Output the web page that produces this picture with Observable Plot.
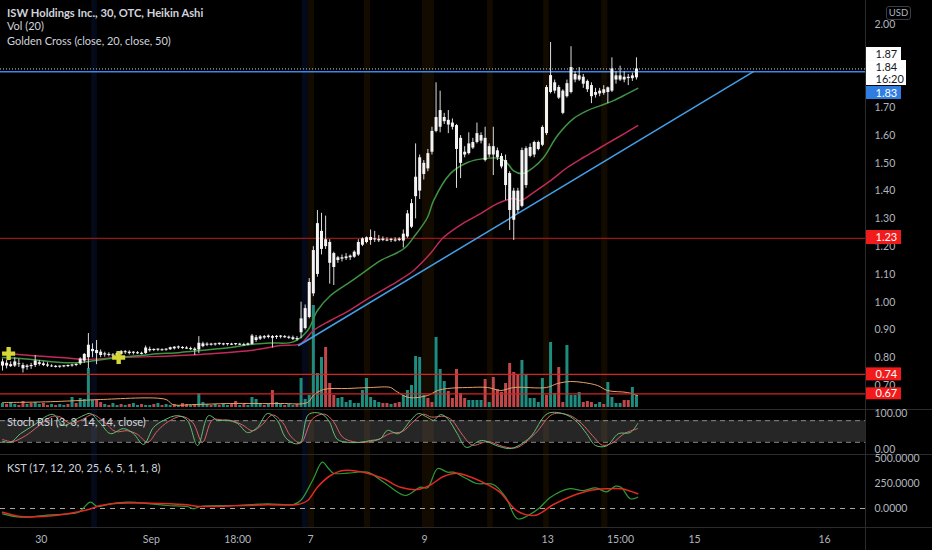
<!DOCTYPE html>
<html><head><meta charset="utf-8">
<script src="https://cdn.jsdelivr.net/npm/d3@7"></script>
<script src="https://cdn.jsdelivr.net/npm/@observablehq/plot@0.6"></script>
<style>
html,body{margin:0;padding:0;background:#000;}
#chart{position:relative;width:932px;height:550px;background:#000;overflow:hidden;font-family:Lato,'Open Sans',sans-serif;}
#chart svg{position:absolute;}
.lbl{position:absolute;color:#d1d4dc;font-size:11px;white-space:nowrap;line-height:14px;}
.sep{position:absolute;background:#2b2b2b;}
#usd{position:absolute;left:886px;top:6px;width:23px;height:12px;border:1px solid #3a3d45;border-radius:3px;color:#b2b5be;font-size:9.5px;line-height:12px;text-align:center;}
</style></head><body><div id="chart"></div><script>
// ---------- DATA ----------
const candleOpen = [
.770,.780,.775,.770,.778,.772,.765,.768,.772,.782,
.778,.774,.770,.769,.766,.767,.768,.770,.772,.778,
.788,.800,.822,.826,.820,.814,.812,.810,.808,.812,
.818,.820,.816,.818,.816,.815,.825,.830,.827,.829,
.827,.829,.832,.835,.837,.835,.833,.831,.828,.840,
.845,.849,.846,.848,.850,.847,.849,.847,.849,.847,
.845,.848,.862,.867,.871,.873,.876,.873,.874,.876,
.874,.872,.869,.890,.905,.945,1.03,1.10,1.19,1.225,
1.215,1.175,1.15,1.155,1.157,1.16,1.162,1.17,1.205,1.215,
1.222,1.228,1.226,1.222,1.224,1.222,1.224,1.222,1.22,1.235,
1.27,1.38,1.40,1.46,1.48,1.54,1.615,1.63,1.665,1.655,
1.645,1.636,1.59,1.54,1.535,1.555,1.575,1.60,1.59,1.56,
1.53,1.545,1.525,1.51,1.463,1.40,1.33,1.345,1.42,1.525,
1.53,1.55,1.565,1.607,1.755,1.79,1.773,1.76,1.74,1.755,
1.82,1.815,1.81,1.795,1.78,1.755,1.75,1.765,1.755,1.76,
1.80,1.80,1.81,1.805,1.805,1.808];
const candleHigh = [
.795,.790,.785,.800,.795,.780,.775,.780,.808,.790,
.785,.782,.775,.772,.770,.772,.774,.776,.778,.800,
.815,.887,.850,.862,.828,.820,.818,.815,.820,.826,
.826,.825,.822,.822,.820,.842,.838,.832,.832,.832,
.832,.838,.840,.842,.840,.840,.838,.836,.876,.856,
.854,.852,.852,.853,.852,.851,.852,.851,.852,.852,
.853,.884,.880,.880,.880,.882,.880,.880,.880,.880,
.878,.878,.876,1.00,.99,1.085,1.20,1.33,1.32,1.31,
1.225,1.18,1.165,1.17,1.175,1.17,1.185,1.225,1.232,1.235,
1.26,1.255,1.24,1.235,1.232,1.23,1.232,1.232,1.26,1.33,
1.37,1.57,1.53,1.51,1.55,1.63,1.79,1.76,1.68,1.69,
1.66,1.64,1.60,1.56,1.61,1.59,1.645,1.61,1.63,1.57,
1.63,1.555,1.535,1.53,1.47,1.41,1.41,1.555,1.56,1.57,
1.58,1.58,1.635,1.78,1.935,1.80,1.78,1.765,1.80,1.92,
1.83,1.845,1.82,1.80,1.79,1.77,1.77,1.78,1.775,1.88,
1.83,1.85,1.83,1.82,1.825,1.88];
const candleLow = [
.752,.760,.765,.765,.765,.745,.755,.758,.765,.770,
.768,.765,.765,.763,.762,.764,.765,.766,.768,.772,
.780,.760,.800,.775,.800,.802,.803,.800,.800,.808,
.812,.810,.810,.812,.810,.812,.820,.822,.822,.824,
.823,.826,.828,.830,.830,.830,.826,.808,.815,.836,
.840,.842,.842,.844,.843,.842,.844,.843,.844,.842,
.843,.845,.855,.862,.866,.868,.835,.866,.868,.870,
.866,.862,.860,.868,.90,.94,1.02,1.09,1.17,1.19,
1.065,1.06,1.14,1.145,1.15,1.15,1.158,1.165,1.20,1.21,
1.205,1.215,1.215,1.218,1.218,1.215,1.216,1.218,1.195,1.23,
1.265,1.30,1.37,1.44,1.47,1.53,1.61,1.61,1.64,1.607,
1.62,1.41,1.445,1.52,1.53,1.55,1.57,1.57,1.505,1.52,
1.456,1.51,1.48,1.366,1.258,1.222,1.32,1.34,1.41,1.52,
1.52,1.545,1.56,1.60,1.75,1.75,1.73,1.675,1.735,1.75,
1.79,1.795,1.77,1.755,1.715,1.735,1.74,1.745,1.715,1.755,
1.785,1.795,1.79,1.78,1.795,1.80];
const candleClose = [
.785,.770,.768,.785,.775,.760,.770,.772,.788,.776,
.772,.770,.767,.765,.770,.771,.772,.774,.776,.795,
.812,.845,.830,.815,.808,.810,.808,.806,.815,.822,
.822,.815,.820,.814,.812,.835,.830,.826,.831,.825,
.831,.836,.838,.839,.833,.831,.829,.826,.852,.850,
.849,.845,.850,.852,.846,.851,.845,.851,.845,.843,
.850,.878,.872,.875,.876,.878,.870,.877,.878,.872,
.870,.866,.865,.940,.977,1.071,1.186,1.283,1.255,1.20,
1.14,1.125,1.16,1.16,1.163,1.166,1.18,1.215,1.228,1.232,
1.233,1.224,1.221,1.227,1.22,1.226,1.22,1.227,1.245,1.318,
1.355,1.45,1.52,1.50,1.535,1.615,1.665,1.69,1.65,1.638,
1.63,1.55,1.50,1.53,1.57,1.575,1.607,1.58,1.51,1.53,
1.56,1.52,1.487,1.42,1.33,1.295,1.40,1.546,1.553,1.557,
1.575,1.575,1.629,1.773,1.816,1.76,1.735,1.68,1.787,1.845,
1.80,1.80,1.785,1.765,1.74,1.745,1.76,1.752,1.772,1.84,
1.815,1.815,1.80,1.81,1.815,1.84];

// volume (thousand shares) and direction (1 = up / teal, 0 = down / red)
const volume = [
40,30,50,30,20,60,30,40,50,30,40,20,30,20,30,20,30,100,40,90,80,
390,70,70,50,
30,20,40,20,30,20,30,40,20,30,20,20,30,40,20,30,20,30,20,40,30,20,30,
140,50,
30,20,30,20,30,20,30,
60,
20,30,20,
100,80,
30,20,30,
170,50,
30,20,30,20,30,
290,80,120,1020,
340,500,600,240,120,90,100,50,70,40,
40,170,290,100,70,50,40,40,30,40,
50,120,170,220,510,500,120,90,50,700,
380,260,160,90,380,140,90,70,70,70,
70,280,50,300,180,150,240,440,350,330,
470,330,90,90,50,290,120,650,140,400,
50,620,120,120,150,50,60,50,30,50,
30,250,100,40,40,70,70,200,120];
const volumeUp = [
1,0,1,1,0,0,1,0,1,1,0,0,1,0,1,1,0,1,0,1,1,
1,1,0,0,
1,0,1,1,0,1,0,1,1,0,1,1,0,1,0,1,1,0,1,0,0,1,0,
1,1,
1,0,1,0,1,1,0,
0,
1,0,1,
1,1,
1,0,1,
0,1,
1,0,1,1,0,
1,1,1,1,
1,1,0,0,0,1,1,1,1,1,
1,1,1,1,1,1,0,0,1,0,
0,1,1,1,1,1,1,0,0,1,
1,1,0,0,0,0,0,1,1,1,
1,0,1,0,0,0,0,0,0,0,
1,1,1,1,1,1,0,1,1,0,
0,1,1,1,1,0,0,0,1,1,
0,1,1,1,1,0,0,1,1];
const volMaIdx = [0,9.3,19,24,40,41.6,47,55.7,68,74.6,76,78.5,84.4,90,94.9,96,99.3,103.9,106.4,108.8,113.7,118.6,121.8,125,133,135.7,138.9,142,145.5,147.9,152.8,155.3];
const volMaVal = [50,55,70,80,80,30,30,40,40,50,120,180,190,200,200,170,100,120,170,190,200,200,170,200,200,240,260,250,220,170,150,120];

// Golden Cross moving averages
const sma20Idx = [0,4.4,9.3,14.2,19.1,22.7,26.4,28.9,36.2,43.5,48.4,55.7,60.6,65.5,71.1,74.6,77,80.2,84.4,88.3,92.4,96.6,98.5,100.5,103.9,105.4,109.5,113.7,117.6,121.8,123.5,124.9,127.1,129.8,132.3,135.7,139.6,143,146.2,149.4,152.8,155.3];
const sma20Val = [0.801,0.797,0.790,0.783,0.783,0.790,0.797,0.801,0.812,0.819,0.826,0.837,0.848,0.853,0.857,0.898,0.970,1.024,1.067,1.107,1.150,1.179,1.197,1.233,1.305,1.366,1.463,1.503,1.517,1.517,1.499,1.474,1.463,1.485,1.521,1.600,1.661,1.690,1.708,1.726,1.751,1.770];
const sma50Idx = [0,6.8,14.2,20.3,28.4,36.2,48.4,60.6,68,72.9,76,80.2,84.4,88.3,92.4,96.6,100.5,104.6,107.8,112.7,116.9,121,124.9,126.7,129.8,134,138.1,142,146.2,150.4,155.3];
const sma50Val = [0.819,0.808,0.801,0.794,0.801,0.804,0.812,0.826,0.844,0.851,0.898,0.934,0.967,1.003,1.039,1.075,1.114,1.175,1.233,1.285,1.319,1.355,1.373,1.366,1.395,1.438,1.485,1.521,1.557,1.593,1.636];
const crossIdx = [1.5, 28.4];
const crossVal = [0.815, 0.801];

// drawings
const trendIdx = [72.4, 183.6];
const trendVal = [0.844, 1.83];
const levelVal = [1.23, 0.74, 0.67];
const levelColor = ["#9a1515", "#d42424", "#d42424"];
const resistance = 1.83;
const lastPrice = 1.84;
const priceTicks = [0.7,0.8,0.9,1.0,1.1,1.2,1.3,1.4,1.5,1.6,1.7,2.0];

// session highlight stripes (bar index)
const stripeStart = [21.8, 73.3, 74.8, 88.5, 102.7, 118.6, 132.3, 146.5];
const stripeEnd   = [23.2, 74.8, 76.3, 90.0, 105.6, 120.0, 133.7, 148.0];
const stripeKind  = ["b","b","o","o","o","o","o","o"];

// Stoch RSI
const stochKIdx = [0,2,4.4,7.6,11,12.5,14.9,18.3,20.3,21.5,24,26.4,29.6,32,34.5,36.9,39.4,42.8,45.2,47.7,50.4,52.6,55,57.5,59.9,62.3,64.8,67.2,69.2,71.6,72.9,74.8,77.8,79.7,81.9,84.4,87.5,90,92.4,94.1,96.8,99.8,101.7,103.9,105.4,107.1,108.8,111.2,113.4,117.1,121.5,124.4,128.9,133.3,137.7,140.6,142.8,145,147.7,150.6,153.5,155.3];
const stochKVal = [23,20,44,67,94,97,67,86,97,100,72,44,58,44,14,61,81,94,81,11,94,81,81,72,47,61,100,81,33,16,20,97,100,81,28,20,20,25,30,53,44,81,100,89,81,97,86,44,6,25,8,3,33,100,97,75,44,11,10,44,47,72];
const stochDIdx = [0,2.4,5.6,8.8,12.2,14.2,16.6,19.6,22,24.9,27.6,30.6,33,35.5,37.9,40.6,43.8,46.5,48.9,51.3,53.8,56.2,58.7,61.1,63.6,66,68.5,70.4,72.9,75.8,78.7,80.9,83.1,85.6,88.8,91.7,94.9,97.8,100.7,102.9,104.9,108.1,110,112.5,114.9,118.6,122.5,125.7,130.3,134.5,138.6,141.6,144.3,146.7,149.1,152,155.3];
const stochDVal = [28,22,38,65,92,90,72,84,97,76,50,52,42,20,52,78,92,75,20,82,82,80,68,52,70,96,75,38,18,85,98,78,35,22,20,27,45,50,80,98,90,92,80,40,12,22,8,5,45,98,95,72,38,12,18,44,58];

// KST
const kstIdx = [0,4.4,10,15.9,18.6,21.5,23.2,26.4,30.6,36.2,40.3,45.2,46.7,48.4,56.5,64.8,71.1,72.9,75.8,78.2,79.7,80.9,84.4,89.2,93.2,98.5,102.2,103.9,106.4,108.8,110.3,113.4,115.9,120,123,125.9,128.9,131.1,134,138.4,142,145,147.7,149.9,151.3,153.5,155.3];
const kstVal = [-53,-87,-70,-53,-37,63,20,47,63,47,30,20,-3,20,30,47,40,80,280,463,400,353,353,363,263,130,213,207,400,363,363,300,250,240,113,-103,-60,0,113,197,180,207,167,223,210,97,113];
const kstSigIdx = [0,4.4,10,15.9,20.8,24,28.1,36.2,44.3,48.4,56.5,64.8,72.1,74.6,77,80.2,83.4,89.2,93.2,97.3,101.5,104.6,107.8,111.2,113.4,117.4,121.5,125.9,130.3,134.7,139.1,143.5,147.7,151.3,155.3];
const kstSigVal = [-37,-80,-80,-53,-13,30,53,53,40,20,27,37,40,80,213,330,380,353,297,213,190,235,320,353,330,263,167,-27,-67,40,123,180,197,197,147];

// time axis
const timeTickIdx = [9.5, 36.4, 57.5, 75.3, 103.2, 133.3, 151.1, 169.2, 201.0];
const timeTickLabels = ["30", "Sep", "18:00", "7", "9", "13", "15:00", "15", "16"];

// price tags on the scale
const tagValue = [1.84, 1.87, 1.83, 1.23, 0.74, 0.67];
const tagText  = ["1.84", "1.87", "1.83", "1.23", "0.74", "0.67"];

// ---------- BUILD ----------
const chart = document.getElementById("chart");
const xDomain = [-0.49, 211.0];
const priceDomain = [0.6136, 2.0864];
const baseStyle = {background: "transparent", color: "#b2b5be", fontFamily: "Lato, 'Open Sans', sans-serif", fontSize: "10.5px", overflow: "visible"};
const noX = {domain: xDomain, axis: null};
function place(node, top, left = 0) { node.style.top = top + "px"; node.style.left = left + "px"; chart.appendChild(node); }
const zip = (a, b) => a.map((d, i) => ({i: d, v: b[i]}));

const bars = candleOpen.map((o, i) => ({i, o, h: candleHigh[i], l: candleLow[i], c: candleClose[i]}));
const vols = volume.map((v, i) => ({i, v, up: volumeUp[i]}));
const stripes = stripeStart.map((s, k) => ({s, e: stripeEnd[k], kind: stripeKind[k]}));

// stripes behind everything
place(Plot.plot({
  width: 932, height: 527, marginLeft: 0, marginRight: 67, marginTop: 0, marginBottom: 0,
  x: noX, y: {domain: [0, 1], axis: null}, style: baseStyle,
  marks: [
    Plot.rect(stripes, {x1: "s", x2: "e", y1: 0, y2: 1,
      fill: d => d.kind === "b" ? "#2962ff" : "#ff9800", fillOpacity: d => d.kind === "b" ? 0.10 : 0.075})
  ]
}), 0);

// separators
[[0, 409, 932, 1], [0, 454, 932, 1], [0, 527, 932, 1], [865, 0, 1, 550]].forEach(([l, t, w, h]) => {
  const d = document.createElement("div"); d.className = "sep";
  d.style.left = l + "px"; d.style.top = t + "px"; d.style.width = w + "px"; d.style.height = h + "px";
  chart.appendChild(d);
});

// volume overlay
place(Plot.plot({
  width: 932, height: 409, marginLeft: 0, marginRight: 67, marginTop: 0, marginBottom: 2,
  x: noX, y: {domain: [0, 4070], axis: null}, style: baseStyle,
  marks: [
    Plot.ruleX(vols, {x: "i", y1: 0, y2: "v", stroke: d => d.up ? "#1f8c80" : "#c0474a", strokeWidth: 3}),
    Plot.line(zip(volMaIdx, volMaVal), {x: "i", y: "v", stroke: "#e9a066", strokeWidth: 1, curve: "catmull-rom"})
  ]
}), 0);

// price pane
place(Plot.plot({
  width: 932, height: 409, marginLeft: 0, marginRight: 67, marginTop: 0, marginBottom: 0,
  x: noX,
  y: {domain: priceDomain, axis: "right", ticks: priceTicks, tickFormat: d3.format(".2f"), tickSize: 0, tickPadding: 9, label: null},
  style: baseStyle,
  marks: [
    Plot.ruleY(levelVal, {y: d => d, stroke: (d, i) => levelColor[i], strokeWidth: 1.3}),
    Plot.ruleY([lastPrice], {stroke: "#d0d0d0", strokeDasharray: "1,2", strokeWidth: 1}),
    Plot.ruleY([resistance], {stroke: "#3a86e8", strokeWidth: 1.5}),
    Plot.line(zip(sma50Idx, sma50Val), {x: "i", y: "v", stroke: "#c22a58", strokeWidth: 1.5, curve: "catmull-rom"}),
    Plot.line(zip(sma20Idx, sma20Val), {x: "i", y: "v", stroke: "#3f9342", strokeWidth: 1.5, curve: "catmull-rom"}),
    Plot.line(zip(trendIdx, trendVal), {x: "i", y: "v", stroke: "#42a0ea", strokeWidth: 1.5}),
    Plot.ruleX(bars, {x: "i", y1: "l", y2: "h", stroke: "#dcdcdc", strokeWidth: 1}),
    Plot.ruleX(bars, {x: "i", y1: "o", y2: "c", stroke: "#f4f4f4", strokeWidth: 3}),
    Plot.dot(zip(crossIdx, crossVal), {x: "i", y: "v", symbol: "cross", r: 5.5, fill: "#d6d636", stroke: "none"})
  ]
}), 0);

// price tags
const tagStyle = [
  {bg: "#ffffff", fg: "#131722", dy: 4.1, half: 12.5, w: 41},
  {bg: "#ffffff", fg: "#131722", dy: -6.6, half: 6.5, w: 36},
  {bg: "#2f7de1", fg: "#ffffff", dy: 21.3, half: 6.5, w: 36},
  {bg: "#f21b1b", fg: "#ffffff", dy: -0.8, half: 7, w: 36},
  {bg: "#f21b1b", fg: "#ffffff", dy: 0, half: 6.5, w: 36},
  {bg: "#f21b1b", fg: "#ffffff", dy: 0, half: 6, w: 36}
];
const tagMarks = [];
tagValue.forEach((v, k) => {
  const s = tagStyle[k];
  const datum = [{v, t: tagText[k]}];
  tagMarks.push(Plot.rect(datum, {x1: 1, x2: s.w, y1: "v", y2: "v", insetTop: -s.half, insetBottom: -s.half, dy: s.dy, fill: s.bg}));
  if (k === 0) {
    tagMarks.push(Plot.text(datum, {x: 10, y: "v", text: "t", dy: -1.4, fill: s.fg, textAnchor: "start", fontSize: 11}));
    tagMarks.push(Plot.text(datum, {x: 10, y: "v", text: () => "16:20", dy: 10.6, fill: s.fg, textAnchor: "start", fontSize: 11}));
  } else {
    tagMarks.push(Plot.text(datum, {x: 10, y: "v", text: "t", dy: s.dy, fill: s.fg, textAnchor: "start", fontSize: 11}));
  }
});
place(Plot.plot({
  width: 67, height: 409, marginLeft: 0, marginRight: 0, marginTop: 0, marginBottom: 0,
  x: {domain: [0, 67], axis: null}, y: {domain: priceDomain, axis: null}, style: baseStyle,
  marks: tagMarks
}), 0, 865);

// Stoch RSI pane
place(Plot.plot({
  width: 932, height: 45, marginLeft: 0, marginRight: 67, marginTop: 0, marginBottom: 0,
  x: noX,
  y: {domain: [-13.9, 111.1], axis: "right", ticks: [0, 100], tickFormat: d3.format(".2f"), tickSize: 0, tickPadding: 9, label: null},
  style: baseStyle,
  marks: [
    Plot.rect([0], {x1: xDomain[0], x2: xDomain[1], y1: 20, y2: 80, fill: "#7e7e7e", fillOpacity: 0.3}),
    Plot.ruleY([20, 80], {stroke: "#8a8a8a", strokeDasharray: "5,4", strokeWidth: 1}),
    Plot.line(zip(stochDIdx, stochDVal), {x: "i", y: "v", stroke: "#dd5f6a", strokeWidth: 1, curve: "catmull-rom"}),
    Plot.line(zip(stochKIdx, stochKVal), {x: "i", y: "v", stroke: "#62c072", strokeWidth: 1, curve: "catmull-rom"})
  ]
}), 409);

// KST pane + time axis
const timeLabelMap = new Map(timeTickIdx.map((d, k) => [d, timeTickLabels[k]]));
place(Plot.plot({
  width: 932, height: 96, marginLeft: 0, marginRight: 67, marginTop: 0, marginBottom: 23,
  x: {domain: xDomain, axis: "bottom", ticks: timeTickIdx, tickFormat: d => timeLabelMap.get(d), tickSize: 0, tickPadding: 8, label: null},
  y: {domain: [-190, 540], axis: "right", ticks: [0, 250, 500], tickFormat: d3.format(".4f"), tickSize: 0, tickPadding: 9, label: null},
  style: baseStyle,
  marks: [
    Plot.ruleY([0], {stroke: "#a8a8a8", strokeDasharray: "5,5", strokeWidth: 1}),
    Plot.line(zip(kstIdx, kstVal), {x: "i", y: "v", stroke: "#2e9a36", strokeWidth: 1.2, curve: "catmull-rom"}),
    Plot.line(zip(kstSigIdx, kstSigVal), {x: "i", y: "v", stroke: "#e32a22", strokeWidth: 1.5, curve: "catmull-rom"})
  ]
}), 454);

// legends / titles
function label(text, left, top, extra = {}) {
  const d = document.createElement("div"); d.className = "lbl"; d.textContent = text;
  d.style.left = left + "px"; d.style.top = top + "px"; Object.assign(d.style, extra); chart.appendChild(d);
}
label("ISW Holdings Inc., 30, OTC, Heikin Ashi", 7, 6, {fontWeight: "700", fontSize: "11.2px"});
label("Vol (20)", 7, 19);
label("Golden Cross (close, 20, close, 50)", 7, 34);
label("Stoch RSI (3, 3, 14, 14, close)", 7, 415);
label("KST (17, 12, 20, 25, 6, 5, 1, 1, 8)", 7, 461);
const usd = document.createElement("div"); usd.id = "usd"; usd.textContent = "USD"; chart.appendChild(usd);
</script></body></html>
